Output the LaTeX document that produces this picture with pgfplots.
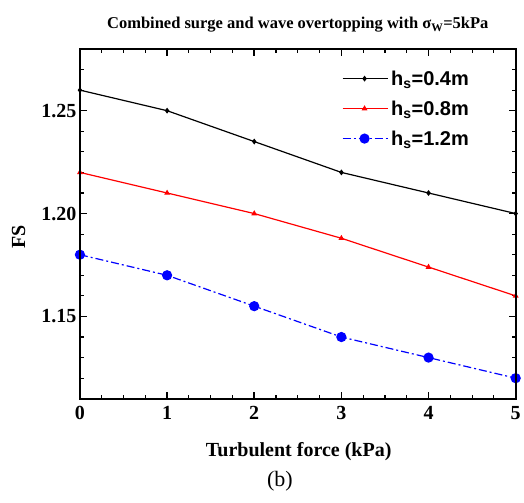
\documentclass[border=0pt]{standalone}
\usepackage{fontspec}
\setmainfont{Liberation Serif}
\newfontfamily\arialfont{Liberation Sans}
\usepackage{pgfplots}
\pgfplotsset{compat=1.18}
\begin{document}
\begin{tikzpicture}
\begin{axis}[
  name=ax, at={(0pt,0pt)}, anchor=south west,
  scale only axis, width=436pt, height=350pt,
  xmin=0, xmax=5, ymin=1.11, ymax=1.28,
  xtick={0,1,2,3,4,5}, ytick={1.15,1.20,1.25},
  xticklabels={0,1,2,3,4,5}, yticklabels={1.15,1.20,1.25},
  minor x tick num=3, minor y tick num=4,
  major tick length=7pt, minor tick length=4pt,
  axis line style={line width=1.8pt, black},
  major tick style={line width=1.5pt, black},
  minor tick style={line width=1.2pt, black},
  xticklabel style={yshift=-4pt},
  ticklabel style={font=\bfseries\fontsize{20}{22}\selectfont},
  title={Combined surge and wave overtopping with σ\textsubscript{W}=5kPa},
  title style={at={(axis description cs:0.5,1.04)}, anchor=base, font=\bfseries\fontsize{16.5}{18}\selectfont},
  xlabel={Turbulent force (kPa)},
  xlabel style={at={(axis description cs:0.502,-0.166)}, anchor=base, font=\bfseries\fontsize{20}{22}\selectfont},
  ylabel={FS},
  ylabel style={at={(axis description cs:-0.126,0.463)}, anchor=base, font=\bfseries\fontsize{20}{22}\selectfont},
  legend style={at={(axis description cs:0.594,0.95)}, anchor=north west, draw=none, fill=none,
    font=\arialfont\bfseries\fontsize{20}{22}\selectfont, row sep=10pt,
    nodes={inner xsep=3pt}},
  legend cell align=left,
  legend image code/.code={\draw[mark repeat=2,mark phase=2,#1] plot coordinates {(0pt,0pt) (22pt,0pt) (45pt,0pt)};},
]
% tick marks (inward, on all four sides)
\pgfplotsinvokeforeach{0,1,2,3,4,5}{
  \draw[line width=1.5pt] (axis cs:#1,1.11) -- ++(0pt,7pt);
  \draw[line width=1.5pt] (axis cs:#1,1.28) -- ++(0pt,-7pt);
}
\pgfplotsinvokeforeach{0.25,0.5,0.75,1.25,1.5,1.75,2.25,2.5,2.75,3.25,3.5,3.75,4.25,4.5,4.75}{
  \draw[line width=1.2pt] (axis cs:#1,1.11) -- ++(0pt,4pt);
  \draw[line width=1.2pt] (axis cs:#1,1.28) -- ++(0pt,-4pt);
}
\pgfplotsinvokeforeach{1.15,1.20,1.25}{
  \draw[line width=1.5pt] (axis cs:0,#1) -- ++(7pt,0pt);
  \draw[line width=1.5pt] (axis cs:5,#1) -- ++(-7pt,0pt);
}
\pgfplotsinvokeforeach{1.11,1.12,1.13,1.14,1.16,1.17,1.18,1.19,1.21,1.22,1.23,1.24,1.26,1.27}{
  \draw[line width=1.2pt] (axis cs:0,#1) -- ++(4pt,0pt);
  \draw[line width=1.2pt] (axis cs:5,#1) -- ++(-4pt,0pt);
}
\addplot[black, line width=1.2pt, mark=diamond*, mark size=2pt] coordinates {
 (0,1.26) (1,1.25) (2,1.235) (3,1.22) (4,1.21) (5,1.20)};
\addlegendentry{h\textsubscript{s}=0.4m}
\addplot[red, line width=1.2pt, mark=triangle*, mark size=2.2pt] coordinates {
 (0,1.22) (1,1.21) (2,1.20) (3,1.188) (4,1.174) (5,1.16)};
\addlegendentry{h\textsubscript{s}=0.8m}
\addplot[blue, line width=1.2pt, dash pattern=on 8pt off 3pt on 2pt off 3pt, mark=*, mark size=4.5pt, mark options={solid}] coordinates {
 (0,1.18) (1,1.17) (2,1.155) (3,1.14) (4,1.13) (5,1.12)};
\addlegendentry{h\textsubscript{s}=1.2m}
\end{axis}
\draw[line width=1.8pt] (ax.south west) rectangle (ax.north east);
\node[font=\fontsize{22}{24}\selectfont] at (200pt,-83pt) {(b)};
\path (-80pt,-104pt) rectangle (444pt,399pt);
\end{tikzpicture}
\end{document}
